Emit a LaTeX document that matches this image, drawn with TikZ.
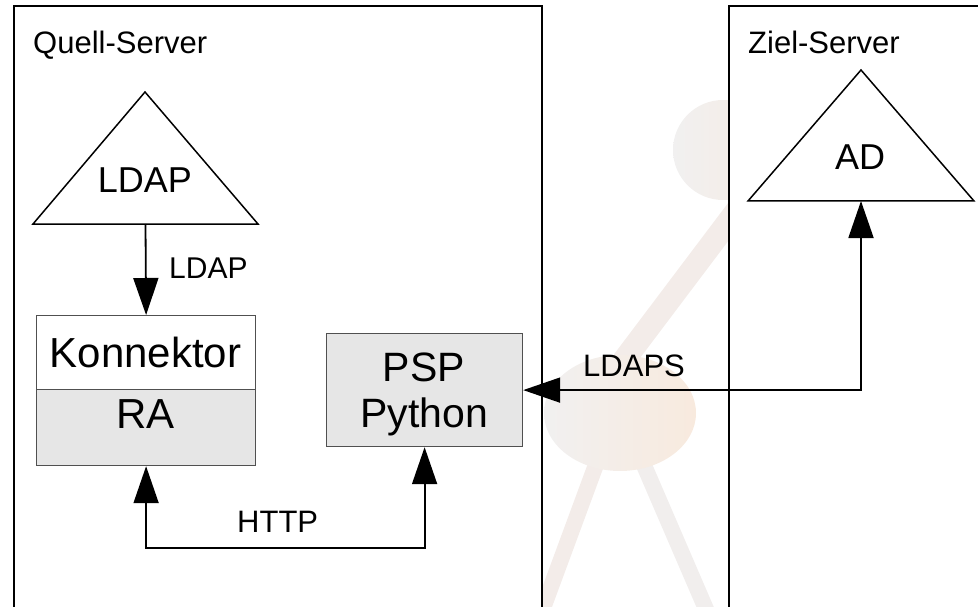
\documentclass[tikz,border=0pt]{standalone}
\usepackage{fontspec}
\setmainfont{Liberation Sans}
\usetikzlibrary{arrows.meta}
\definecolor{wmgray}{RGB}{241,240,240}
\definecolor{wmorange}{RGB}{248,234,222}
\definecolor{wmwarm}{RGB}{243,236,233}
\definecolor{wmcool}{RGB}{241,238,237}
\definecolor{boxgray}{RGB}{230,230,230}
\definecolor{edgegray}{RGB}{80,80,80}
\tikzset{bigtip/.tip={Triangle[length=37pt,width=25pt]}}
\begin{document}
\begin{tikzpicture}[x=1pt,y=-1pt,
  server/.style={draw=black,line width=1.6pt,fill=white,inner sep=0pt,anchor=north west},
  part/.style={draw=edgegray,line width=1.2pt,inner sep=0pt,anchor=north west},
  tree/.style={draw=black,line width=1.5pt,fill=white,line join=miter},
  txt/.style={inner sep=0pt,anchor=base},
  txtl/.style={inner sep=0pt,anchor=base west},
  link/.style={line width=1.8pt},
]
\useasboundingbox (0,0) rectangle (978,607);

% faint logo in the background
\begin{scope}
  \clip (0,0) rectangle (978,607);
  \draw[line width=23pt,wmwarm] (790,140) -- (600,392);
  \draw[line width=16pt,wmwarm] (618,405) -- (535,630);
  \draw[line width=16pt,wmcool] (618,405) -- (715,630);
  \shade[left color=wmgray,right color=wmorange!70!wmgray] (723,150) circle[radius=50];
  \shade[left color=wmgray,right color=wmorange] (620,413) ellipse[x radius=76,y radius=58];
\end{scope}

% servers
\node[server,minimum width=528pt,minimum height=602pt] (quell) at (13,5.5) {};
\node[server,minimum width=270pt,minimum height=602pt] (ziel) at (728,5.5) {};
\node[txtl,font=\fontsize{31}{36}\selectfont] (quelltitle) at (33,54) {Quell-Server};
\node[txtl,font=\fontsize{31}{36}\selectfont] (zieltitle) at (748,54) {Ziel-Server};

% directories
\draw[tree] (145,92) -- (258,224) -- (33,224) -- cycle;
\coordinate (ldapbase) at (145.5,224);
\node[txt,font=\fontsize{36}{40}\selectfont] (ldaptext) at (145,193) {LDAP};

\draw[tree] (861,70) -- (974,201) -- (748,201) -- cycle;
\coordinate (adbase) at (861,201);
\node[txt,font=\fontsize{36}{40}\selectfont] (adtext) at (860,170) {AD};

% connector with RA
\node[part,fill=white,minimum width=219pt,minimum height=74pt] (konn) at (36,315) {};
\node[part,fill=boxgray,minimum width=219pt,minimum height=76pt] (ra) at (36,389) {};
\node[txt,font=\fontsize{42}{46}\selectfont] (konntext) at (145.5,367) {Konnektor};
\node[txt,font=\fontsize{42}{46}\selectfont] (ratext) at (145.5,428) {RA};

% PSP
\node[part,fill=boxgray,minimum width=196pt,minimum height=113pt] (psp) at (326,333) {};
\node[inner sep=0pt,align=center,font=\fontsize{41}{46}\selectfont] (psptext) at (424,394) {PSP\\Python};

% links
\draw[link,-bigtip] (ldapbase) -- (konn.north);
\node[txtl,font=\fontsize{30}{34}\selectfont] (ldaplabel) at (169,278) {LDAP};

\coordinate (httpline) at (0,548);
\draw[link,bigtip-bigtip,line join=miter] (ra.south) -- (ra.south |- httpline) -| (psp.south);
\node[txtl,font=\fontsize{31}{34}\selectfont] (httplabel) at (237,532) {HTTP};

\draw[link,bigtip-bigtip,line join=miter] (psp.east) -| (adbase);
\node[txtl,font=\fontsize{31}{34}\selectfont] (ldapslabel) at (583,376) {LDAPS};
\end{tikzpicture}
\end{document}
